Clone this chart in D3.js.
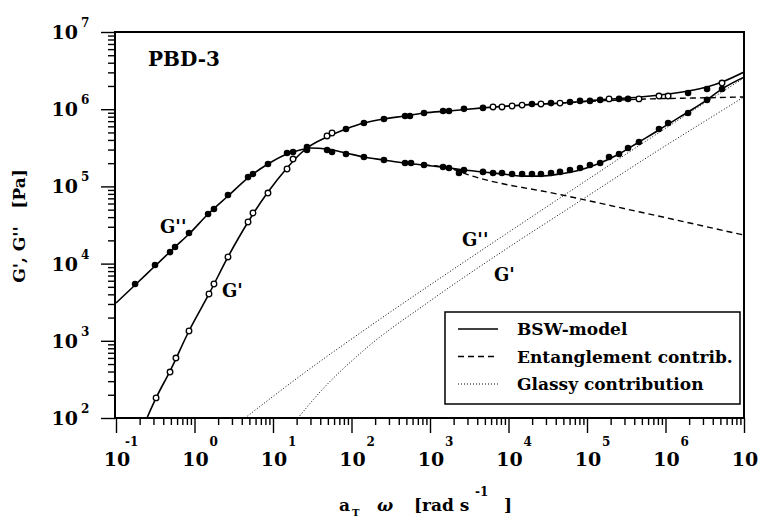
<!DOCTYPE html>
<html>
<head>
<meta charset="utf-8">
<script src="https://cdn.jsdelivr.net/npm/d3@7"></script>
<style>
  body { margin: 0; background: #fff; }
  svg { display: block; font-family: "DejaVu Serif", serif; font-weight: bold; }
</style>
</head>
<body>
<script>
'use strict';

// decades on the axes
const xExponents = [-1, 0, 1, 2, 3, 4, 5, 6, 7];
const yExponents = [2, 3, 4, 5, 6, 7];

// measured loss modulus G'' (filled symbols)
const lossOmega = [0.175, 0.314, 0.488, 0.565, 0.851, 1.49, 1.77, 2.67, 4.81, 5.56, 8.63, 15.1, 18.0, 27.1, 48.8, 56.5, 85.1, 144, 259, 481, 573, 839, 1466, 1746, 2340, 2710, 4730, 6350, 8260, 1.11e4, 1.49e4, 1.99e4, 2.59e4, 3.48e4, 4.53e4, 6.07e4, 8.15e4, 1.09e5, 1.47e5, 1.91e5, 2.56e5, 3.33e5, 4.59e5, 8.26e5, 1.08e6, 1.94e6, 3.38e6, 5.25e6];
const lossValues = [5.44e3, 9.6e3, 1.41e4, 1.64e4, 2.49e4, 4.39e4, 5.10e4, 7.74e4, 1.32e5, 1.45e5, 1.95e5, 2.71e5, 2.79e5, 3.24e5, 2.96e5, 2.79e5, 2.63e5, 2.40e5, 2.20e5, 2.01e5, 2.01e5, 1.89e5, 1.78e5, 1.73e5, 1.49e5, 1.63e5, 1.54e5, 1.49e5, 1.49e5, 1.45e5, 1.45e5, 1.45e5, 1.45e5, 1.49e5, 1.54e5, 1.63e5, 1.73e5, 1.89e5, 2.01e5, 2.40e5, 2.63e5, 3.14e5, 3.76e5, 5.54e5, 6.62e5, 8.93e5, 1.32e6, 1.83e6];

// measured storage modulus G' (1 = open symbol, 0 = filled)
const storageOmega = [0.324, 0.488, 0.58, 0.851, 1.53, 1.77, 2.67, 4.81, 5.56, 8.63, 15.1, 18.0, 27.1, 48.8, 56.5, 85.1, 144, 259, 481, 556, 839, 1466, 1746, 2710, 4730, 6350, 8260, 1.11e4, 1.49e4, 1.99e4, 2.59e4, 3.48e4, 4.53e4, 6.07e4, 8.15e4, 1.09e5, 1.47e5, 1.91e5, 2.56e5, 3.33e5, 4.59e5, 8.26e5, 1.08e6, 1.94e6, 3.38e6, 5.25e6];
const storageValues = [182, 394, 598, 1.34e3, 4.04e3, 5.44e3, 1.22e4, 3.46e4, 4.52e4, 8.2e4, 1.68e5, 2.26e5, 2.96e5, 4.50e5, 4.92e5, 5.54e5, 6.62e5, 7.47e5, 8.17e5, 8.17e5, 8.93e5, 9.48e5, 9.48e5, 1.01e6, 1.04e6, 1.07e6, 1.07e6, 1.10e6, 1.13e6, 1.17e6, 1.17e6, 1.20e6, 1.20e6, 1.24e6, 1.28e6, 1.28e6, 1.32e6, 1.36e6, 1.36e6, 1.36e6, 1.36e6, 1.48e6, 1.48e6, 1.62e6, 1.83e6, 2.18e6];
const storageOpen = [1,1,1,1,1,1,1,1,1,1,1,1,0,1,1,0,0,0,0,0,0,0,0,0,0,1,1,1,1,0,1,0,1,0,0,0,0,1,0,0,1,1,1,0,0,1];

// BSW-model curves [omega, G]
const bswStorage = [[0.248,100],[0.324,182],[0.488,406],[0.851,1.34e3],[1.53,4.04e3],[2.67,1.22e4],[4.81,3.46e4],[8.63,8.45e4],[15.1,1.73e5],[22.1,2.63e5],[27.1,3.14e5],[48.8,4.37e5],[85.1,5.54e5],[144,6.62e5],[259,7.47e5],[481,8.17e5],[839,8.93e5],[1746,9.48e5],[4730,1.04e6],[1.49e4,1.13e6],[4.53e4,1.20e6],[1.47e5,1.32e6],[4.73e5,1.44e6],[1.08e6,1.57e6],[1.94e6,1.72e6],[3.38e6,1.94e6],[5.25e6,2.25e6],[1e7,3.03e6]];
const bswLoss = [[0.1,3.09e3],[0.175,5.28e3],[0.314,9.31e3],[0.565,1.64e4],[0.877,2.49e4],[1.49,4.39e4],[2.67,7.51e4],[4.81,1.29e5],[8.63,1.95e5],[15.1,2.63e5],[22.1,2.96e5],[29.6,3.14e5],[48.8,3.05e5],[85.1,2.71e5],[144,2.40e5],[259,2.20e5],[481,2.01e5],[839,1.89e5],[1746,1.73e5],[2710,1.63e5],[4730,1.54e5],[8260,1.45e5],[1.49e4,1.36e5],[2.59e4,1.36e5],[4.53e4,1.45e5],[8.15e4,1.63e5],[1.47e5,2.01e5],[2.56e5,2.63e5],[4.59e5,3.76e5],[8.26e5,5.38e5],[1.08e6,6.4e5],[1.94e6,9.2e5],[3.38e6,1.32e6],[5.25e6,1.83e6],[1e7,2.6e6]];

// entanglement contribution
const entStorage = [[4.53e4,1.20e6],[1.47e5,1.28e6],[6.35e5,1.36e6],[2.75e6,1.40e6],[1e7,1.44e6]];
const entLoss = [[839,1.89e5],[1746,1.73e5],[2960,1.43e5],[4.81e4,7.74e4],[4.73e5,4.66e4],[1e7,2.34e4]];

// glassy contribution
const glassStorage = [[20.8,100],[39.7,217],[140,738],[1000,3.28e3],[7800,1.37e4],[8.15e4,6.47e4],[4.73e5,2.07e5],[1e7,1.44e6]];
const glassLoss = [[4.40,100],[22.1,350],[140,1.34e3],[1000,5.28e3],[7800,2.15e4],[4.94e4,7.51e4],[4.73e5,3.44e5],[2.75e6,1.10e6],[1e7,2.54e6]];

const legendItems = [
  { label: 'BSW-model', dash: null, width: 1.6 },
  { label: 'Entanglement contrib.', dash: '6,4', width: 1.4 },
  { label: 'Glassy contribution', dash: '1,2', width: 1 }
];

const width = 763, height = 518;
const plot = { left: 115, right: 744, top: 32, bottom: 418 };

const svg = d3.select('body').append('svg')
  .attr('width', width)
  .attr('height', height);

const x = d3.scaleLog().domain([1e-1, 1e7]).range([plot.left + 1, plot.right]);
const y = d3.scaleLog().domain([1e2, 1e7]).range([plot.bottom, plot.top]);

// tick positions: decades and 2..9 inside each decade
const minorOf = (exps) => {
  let out = [];
  exps.slice(0, -1).forEach(e => {
    for (let m = 2; m <= 9; m++) out.push(m * Math.pow(10, e));
  });
  return out;
};
const xMajor = xExponents.map(e => Math.pow(10, e));
const yMajor = yExponents.map(e => Math.pow(10, e));

function tickAxis(axis, transform) {
  const g = svg.append('g').attr('transform', transform).call(axis);
  g.select('.domain').remove();
  g.selectAll('line').attr('stroke', '#000').attr('stroke-width', 1.4);
  return g;
}
tickAxis(d3.axisBottom(x).tickValues(xMajor).tickSize(15).tickFormat(''), `translate(0,${plot.bottom})`);
tickAxis(d3.axisBottom(x).tickValues(minorOf(xExponents)).tickSize(7).tickFormat(''), `translate(0,${plot.bottom})`);
tickAxis(d3.axisLeft(y).tickValues(yMajor).tickSize(14).tickFormat(''), `translate(${plot.left},0)`);
tickAxis(d3.axisLeft(y).tickValues(minorOf(yExponents)).tickSize(7).tickFormat(''), `translate(${plot.left},0)`);

// frame
svg.append('path')
  .attr('d', `M${plot.left},${plot.bottom}V${plot.top}H${plot.right}V${plot.bottom}Z`)
  .attr('fill', 'none')
  .attr('stroke', '#000')
  .attr('stroke-width', 2);

// tick labels with superscripts
xExponents.forEach(e => {
  const px = x(Math.pow(10, e));
  svg.append('text')
    .attr('x', px + 1).attr('y', 466)
    .attr('text-anchor', 'middle')
    .style('font-size', '19px')
    .text('10');
  if (e < 7) {
    svg.append('text')
      .attr('x', e < 0 ? px + 9 : px + 15).attr('y', 446)
      .style('font-size', '12px')
      .text(e);
  }
});
yExponents.forEach(e => {
  const py = y(Math.pow(10, e));
  svg.append('text')
    .attr('x', 78).attr('y', py + 7)
    .attr('text-anchor', 'end')
    .style('font-size', '19px')
    .text('10');
  svg.append('text')
    .attr('x', 81).attr('y', py - 5)
    .style('font-size', '12px')
    .text(e);
});

// axis titles
svg.append('text')
  .attr('transform', 'translate(25,226)rotate(-90)')
  .attr('text-anchor', 'middle')
  .style('font-size', '17px')
  .style('white-space', 'pre')
  .text("G', G''   [Pa]");

const xt = svg.append('g').style('font-size', '17px');
xt.append('text').attr('x', 339).attr('y', 511).text('a');
xt.append('text').attr('x', 352).attr('y', 516).style('font-size', '10px').text('T');
xt.append('text').attr('x', 377).attr('y', 511).style('font-style', 'italic').text('ω');
xt.append('text').attr('x', 414).attr('y', 511).style('white-space', 'pre').text('[rad s');
xt.append('text').attr('x', 475).attr('y', 496).style('font-size', '12px').text('-1');
xt.append('text').attr('x', 504).attr('y', 511).text(']');

// curves
svg.append('clipPath').attr('id', 'plot-clip')
  .append('rect')
  .attr('x', plot.left).attr('y', plot.top)
  .attr('width', plot.right - plot.left).attr('height', plot.bottom - plot.top);

const line = d3.line()
  .x(d => x(d[0]))
  .y(d => y(d[1]))
  .curve(d3.curveMonotoneX);

const curves = svg.append('g').attr('clip-path', 'url(#plot-clip)');
function drawCurve(data, dash, w) {
  curves.append('path')
    .datum(data)
    .attr('d', line)
    .attr('fill', 'none')
    .attr('stroke', '#000')
    .attr('stroke-width', w)
    .attr('stroke-dasharray', dash);
}
drawCurve(glassStorage, '1,2', 1);
drawCurve(glassLoss, '1,2', 1);
drawCurve(entStorage, '6,4', 1.4);
drawCurve(entLoss, '6,4', 1.4);
drawCurve(bswStorage, null, 1.6);
drawCurve(bswLoss, null, 1.6);

// data points
const lossPoints = lossOmega.map((w, i) => ({ w: w, g: lossValues[i] }));
const storagePoints = storageOmega.map((w, i) => ({ w: w, g: storageValues[i], open: storageOpen[i] }));

svg.append('g').selectAll('circle')
  .data(lossPoints)
  .enter()
  .append('circle')
    .attr('cx', d => x(d.w))
    .attr('cy', d => y(d.g))
    .attr('r', 3.3)
    .attr('fill', '#000');

svg.append('g').selectAll('circle')
  .data(storagePoints)
  .enter()
  .append('circle')
    .attr('cx', d => x(d.w))
    .attr('cy', d => y(d.g))
    .attr('r', d => d.open ? 2.8 : 3.3)
    .attr('fill', d => d.open ? '#fff' : '#000')
    .attr('stroke', '#000')
    .attr('stroke-width', d => d.open ? 1.3 : 0);

// labels inside the plot
svg.append('text').attr('x', 148).attr('y', 66).style('font-size', '20px').text('PBD-3');
svg.append('text').attr('x', 160).attr('y', 233).style('font-size', '18px').text("G''");
svg.append('text').attr('x', 222).attr('y', 297).style('font-size', '18px').text("G'");
svg.append('text').attr('x', 462).attr('y', 246).style('font-size', '18px').text("G''");
svg.append('text').attr('x', 494).attr('y', 281).style('font-size', '18px').text("G'");

// legend
const legend = svg.append('g');
legend.append('rect')
  .attr('x', 445).attr('y', 312)
  .attr('width', 295).attr('height', 92)
  .attr('fill', '#fff')
  .attr('stroke', '#000')
  .attr('stroke-width', 1.5);
legendItems.forEach((item, i) => {
  const ly = 329 + i * 27.5;
  legend.append('line')
    .attr('x1', 458).attr('x2', 498)
    .attr('y1', ly).attr('y2', ly)
    .attr('stroke', '#000')
    .attr('stroke-width', item.width)
    .attr('stroke-dasharray', item.dash);
  legend.append('text')
    .attr('x', 517).attr('y', ly + 6)
    .style('font-size', '17px')
    .text(item.label);
});
</script>
</body>
</html>
